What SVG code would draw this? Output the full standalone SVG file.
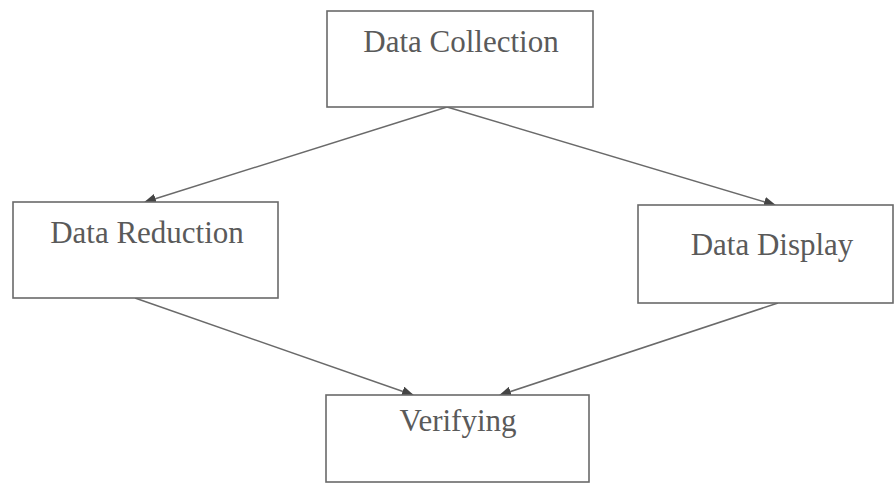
<svg xmlns="http://www.w3.org/2000/svg" width="895" height="483" viewBox="0 0 895 483">
  <style>
    .box { fill: #ffffff; stroke: #6a6a6a; stroke-width: 1.6; }
    .lbl { font-family: "Liberation Serif", "Times New Roman", serif; font-size: 31px; fill: #5a5a5a; text-anchor: middle; }
    .conn { stroke: #6a6a6a; stroke-width: 1.5; fill: none; marker-end: url(#arrow); }
  </style>
  <defs>
    <marker id="arrow" viewBox="0 0 12 10" refX="11" refY="5" markerWidth="12" markerHeight="10" markerUnits="userSpaceOnUse" orient="auto">
      <path d="M0,0 L12,5 L0,10 z" fill="#444444"/>
    </marker>
  </defs>
  <rect width="895" height="483" fill="#ffffff"/>
  <g id="connectors">
    <line class="conn" x1="447" y1="107" x2="145" y2="202"/>
    <line class="conn" x1="447" y1="107" x2="775" y2="205"/>
    <line class="conn" x1="135" y1="298" x2="413" y2="395"/>
    <line class="conn" x1="778" y1="303" x2="500" y2="395"/>
  </g>
  <g id="data-collection">
    <rect class="box" x="327" y="11" width="266" height="96"/>
    <text class="lbl" x="461" y="52">Data Collection</text>
  </g>
  <g id="data-reduction">
    <rect class="box" x="13" y="202" width="265" height="96"/>
    <text class="lbl" x="147" y="243">Data Reduction</text>
  </g>
  <g id="data-display">
    <rect class="box" x="638" y="205" width="255" height="98"/>
    <text class="lbl" x="772" y="255">Data Display</text>
  </g>
  <g id="verifying">
    <rect class="box" x="326" y="395" width="263" height="87"/>
    <text class="lbl" x="458" y="431">Verifying</text>
  </g>
</svg>
